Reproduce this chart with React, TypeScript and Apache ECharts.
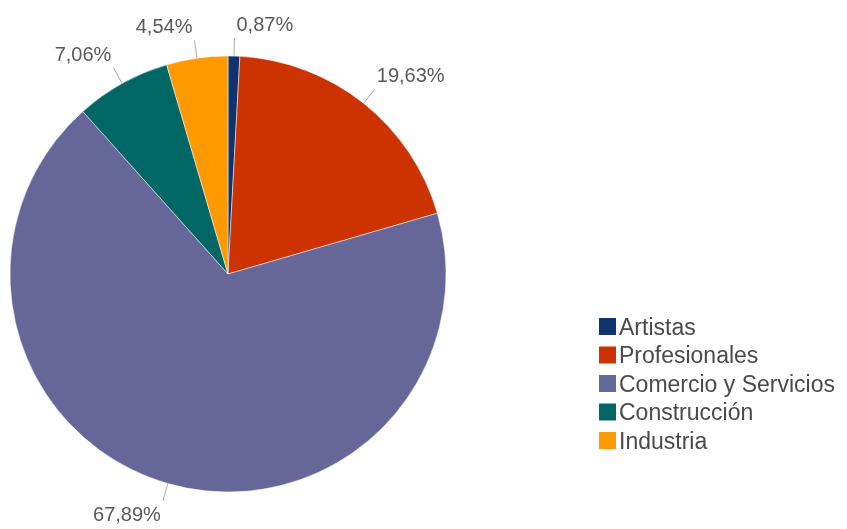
import React, { useEffect, useRef } from "react";
import * as echarts from "echarts";

const categories = ["Artistas", "Profesionales", "Comercio y Servicios", "Construcción", "Industria"];
const values = [0.87, 19.63, 67.89, 7.06, 4.54];
const colors = ["#11336b", "#cc3300", "#666699", "#006666", "#ff9900"];

export default function App() {
  const ref = useRef<HTMLDivElement>(null);
  useEffect(() => {
    const chart = echarts.init(ref.current!, undefined, { renderer: "svg" });
    chart.setOption({
      animation: false,
      color: colors,
      legend: {
        orient: "vertical",
        left: 592,
        top: 310,
        itemWidth: 19,
        itemHeight: 19,
        itemGap: 5.5,
        icon: "rect",
        textStyle: {
          fontFamily: "Liberation Sans, Arial, sans-serif",
          fontSize: 23,
          lineHeight: 21,
          color: "#4a4a4a",
          padding: [0, 0, 0, -3],
        },
        data: categories,
      },
      series: [
        {
          type: "pie",
          center: [228, 274],
          radius: 218,
          startAngle: 90,
          clockwise: true,
          avoidLabelOverlap: false,
          itemStyle: { borderColor: "#fff", borderWidth: 0.5 },
          label: {
            show: true,
            position: "outside",
            formatter: (p: any) => p.value.toFixed(2).replace(".", ",") + "%",
            fontFamily: "Liberation Sans, Arial, sans-serif",
            fontSize: 20,
            lineHeight: 20,
            color: "#595959",
            distanceToLabelLine: 0,
          },
          labelLine: { show: true, length: 18, length2: 0, lineStyle: { color: "#aaa", width: 1 } },
          labelLayout: (p: any) => {
            const pts = p.labelLinePoints;
            if (!pts) return {};
            const a = pts[0];
            const b = pts[1];
            const ux = b[0] - a[0];
            const uy = b[1] - a[1];
            return {
              x: b[0] + (ux >= 0 ? 2 : -2),
              y: b[1] + (uy >= 0 ? 3 : -4),
              align: ux >= 0 ? "left" : "right",
              verticalAlign: uy >= 0 ? "top" : "bottom",
              labelLinePoints: [a, b, b],
            };
          },
          data: categories.map((c, i) => ({ name: c, value: values[i] })),
        },
      ],
    });
    return () => chart.dispose();
  }, []);
  return (
    <div
      ref={ref}
      style={{ position: "fixed", left: 0, top: 0, width: 847, height: 529 }}
    />
  );
}
